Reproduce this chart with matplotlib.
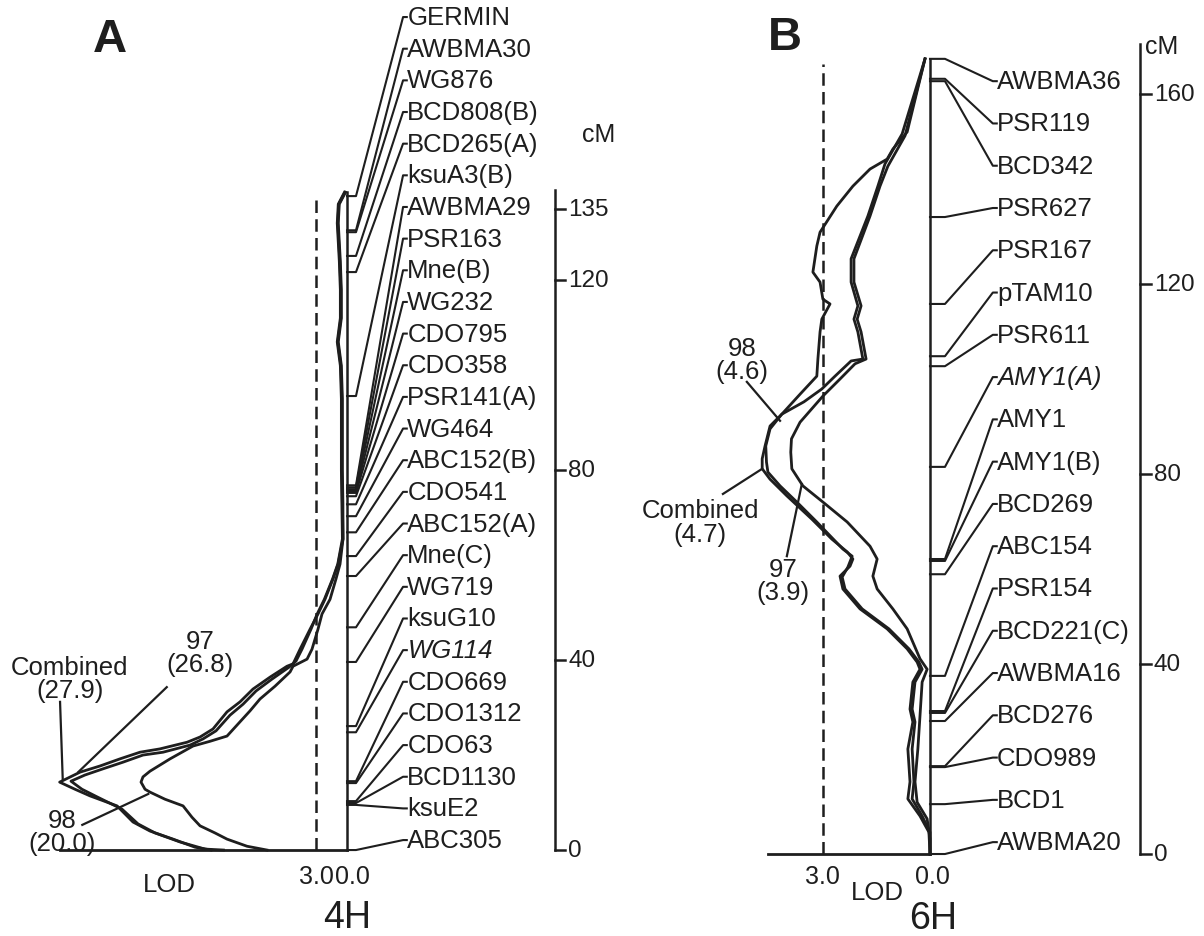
import numpy as np
import matplotlib
matplotlib.use('Agg')
import matplotlib.pyplot as plt

plt.rcParams['font.family'] = ['Liberation Sans', 'DejaVu Sans']
INK = '#1e1e1e'

### chromosome 4H : markers (cM) and LOD profiles
markers_4h = ['GERMIN', 'AWBMA30', 'WG876', 'BCD808(B)', 'BCD265(A)', 'ksuA3(B)',
              'AWBMA29', 'PSR163', 'Mne(B)', 'WG232', 'CDO795', 'CDO358', 'PSR141(A)',
              'WG464', 'ABC152(B)', 'CDO541', 'ABC152(A)', 'Mne(C)', 'WG719', 'ksuG10',
              'WG114', 'CDO669', 'CDO1312', 'CDO63', 'BCD1130', 'ksuE2', 'ABC305']
pos_4h = [137.7, 130.5, 130.1, 125.1, 121.7, 95.6, 76.8, 76.4, 76.0, 75.6, 75.2, 74.5,
          72.8, 70.3, 66.9, 61.9, 57.7, 46.9, 39.6, 26.1, 24.8, 14.5, 14.1, 10.3, 9.9,
          9.5, 0.0]
italic_4h = ['WG114']

comb_4h_cm = [138.5, 136, 132, 128, 124, 118, 112, 107, 102, 95, 88, 80, 73, 65.5, 60.2,
              57.1, 52.8, 49.7, 46.5, 42.3, 39.2, 38.7, 36.4, 33.9, 31.2, 29.1, 25.5, 23.8,
              22.7, 21.3, 20.6, 19.2, 17.7, 16.4, 14.3, 12.8, 11.4, 9.3, 5.9, 4.0, 2.3, 0.6, 0.0]
comb_4h_lod = [0.2, 0.8, 0.9, 0.8, 0.7, 0.6, 0.6, 0.9, 0.6, 0.5, 0.5, 0.5, 0.45, 0.39, 0.87,
               1.36, 2.14, 2.82, 3.59, 4.56, 5.24, 5.83, 7.48, 9.13, 10.39, 11.65, 13.01, 14.27,
               15.53, 18.16, 20.10, 22.04, 23.98, 25.92, 27.9, 26.41, 24.95, 22.33, 20.78, 19.13,
               16.89, 14.76, 13.2]
l97_4h_cm = [138.5, 136, 132, 128, 124, 118, 112, 107, 102, 95, 88, 80, 73, 65.5, 60.2,
             57.1, 52.8, 49.7, 46.5, 42.3, 39.8, 38.5, 36.0, 33.5, 30.7, 28.4, 25.1, 23.4,
             22.1, 20.6, 20.0, 18.5, 17.1, 15.8, 14.5, 12.8, 11.2, 8.6, 5.5, 3.6, 1.7, 0.2, 0.0]
l97_4h_lod = [0.25, 0.85, 0.95, 0.85, 0.75, 0.65, 0.65, 0.95, 0.65, 0.55, 0.55, 0.55, 0.5,
              0.45, 0.9, 1.4, 2.2, 2.9, 3.5, 4.37, 4.95, 5.63, 7.28, 8.83, 10.10, 11.36, 12.72,
              13.98, 15.24, 17.86, 19.81, 21.75, 23.69, 25.44, 26.8, 25.73, 24.27, 21.84, 20.29,
              18.64, 16.21, 13.79, 12.0]
l98_4h_cm = [138.5, 136, 132, 128, 124, 118, 112, 107, 102, 95, 88, 80, 73, 65.5, 60.2,
             57.1, 52.8, 49.7, 46.5, 42.3, 40.2, 38.7, 37.5, 34.5, 31.8, 29.3, 27.0, 24.0,
             22.9, 21.9, 19.2, 16.6, 15.4, 14.3, 12.8, 12.2, 10.7, 9.3, 6.9, 5.1, 3.6, 2.3,
             0.8, 0.0]
l98_4h_lod = [0.15, 0.75, 0.85, 0.75, 0.65, 0.55, 0.55, 0.85, 0.55, 0.45, 0.45, 0.45, 0.4,
              0.39, 0.68, 1.07, 1.65, 2.43, 2.82, 3.40, 3.88, 5.24, 5.53, 6.99, 8.45, 9.42,
              10.39, 11.65, 13.30, 14.95, 17.18, 19.13, 19.81, 20.0, 19.61, 19.13, 17.67,
              15.92, 15.05, 14.27, 12.82, 11.65, 9.71, 7.77]

### chromosome 6H
markers_6h = ['AWBMA36', 'PSR119', 'BCD342', 'PSR627', 'PSR167', 'pTAM10', 'PSR611',
              'AMY1(A)', 'AMY1', 'AMY1(B)', 'BCD269', 'ABC154', 'PSR154', 'BCD221(C)',
              'AWBMA16', 'BCD276', 'CDO989', 'BCD1', 'AWBMA20']
pos_6h = [167.4, 163.2, 162.7, 134.1, 115.8, 104.8, 102.7, 81.5, 62.1, 61.7, 58.9, 37.5,
          30.1, 29.7, 28.0, 18.5, 18.3, 10.5, 0.0]
italic_6h = ['AMY1(A)']

comb_6h_cm = [167.4, 151.6, 145.3, 140.6, 134.3, 125.3, 120.4, 115.4, 112.6, 109.9, 104.2,
              103.8, 100.6, 97.9, 95.2, 92.6, 90.1, 85.9, 83.2, 81.1, 78.9, 75.4, 70.5, 66.3,
              63.6, 62.1, 60.6, 58.5, 55.8, 51.6, 47.4, 43.2, 40.4, 38.9, 36.2, 30.5, 27.8,
              22.1, 15.2, 11.6, 8.0, 4.6, 0.0]
comb_6h_lod = [0.14, 0.78, 1.26, 1.46, 1.74, 2.21, 2.21, 2.02, 2.13, 2.02, 1.88, 2.21, 2.66,
               3.03, 3.53, 4.15, 4.48, 4.62, 4.7, 4.7, 4.48, 4.01, 3.31, 2.75, 2.32, 2.16, 2.24,
               2.52, 2.44, 1.96, 1.20, 0.64, 0.36, 0.28, 0.48, 0.56, 0.48, 0.62, 0.56, 0.62,
               0.28, 0.03, 0.0]
l98_6h_cm = [167.4, 152.0, 148.4, 146.3, 144.2, 140.6, 136.4, 130.9, 128.0, 122.5, 120.4,
             116.8, 115.8, 112.6, 109.9, 104.2, 100.6, 96.8, 92.6, 89.5, 85.9, 82.5, 80.4, 77.5,
             74.1, 69.9, 64.2, 62.7, 60.4, 58.3, 55.8, 51.6, 47.4, 43.2, 40.4, 38.9, 36.2, 30.5,
             27.8, 22.1, 15.2, 11.6, 8.0, 4.6, 0.0]
l98_6h_lod = [0.14, 0.64, 1.04, 1.20, 1.68, 2.16, 2.61, 3.08, 3.17, 3.28, 3.08, 3.00, 2.80,
              3.03, 3.08, 3.14, 3.17, 3.64, 4.15, 4.48, 4.6, 4.58, 4.54, 4.20, 3.73, 3.17, 2.44,
              2.18, 2.30, 2.46, 2.38, 1.90, 1.15, 0.59, 0.31, 0.22, 0.42, 0.50, 0.42, 0.50, 0.45,
              0.50, 0.22, 0.0, 0.0]
l97_6h_cm = [167.4, 151.2, 144.8, 140.6, 134.3, 125.3, 120.4, 115.4, 112.6, 109.9, 104.2,
             103.2, 100.0, 96.4, 90.9, 87.4, 84.6, 81.1, 77.5, 74.1, 69.9, 64.8, 62.1, 58.5,
             55.8, 51.6, 47.4, 41.1, 38.9, 36.2, 29.1, 22.1, 15.2, 10.9, 7.4, 3.2, 0.0]
l97_6h_lod = [0.14, 0.70, 1.18, 1.40, 1.68, 2.13, 2.13, 1.93, 2.04, 1.93, 1.79, 2.10, 2.52,
              3.00, 3.64, 3.88, 3.9, 3.87, 3.56, 3.00, 2.32, 1.68, 1.48, 1.60, 1.48, 1.04, 0.64,
              0.28, 0.08, 0.22, 0.28, 0.34, 0.42, 0.36, 0.08, 0.0, 0.0]

threshold = 3.0

# annotations: text, text pos, leader start, leader end (LOD, cM)
notes_4h = [('Combined\n(27.9)', (26.9, 36.2), (27.86, 31.2), (27.6, 14.9)),
            ('97\n(26.8)', (14.3, 41.5), (17.5, 34.3), (26.1, 16.4)),
            ('98\n(20.0)', (27.7, 4.0), (25.7, 5.3), (19.3, 11.8))]
notes_6h = [('98\n(4.6)', (5.27, 104.2), (5.13, 99.4), (4.20, 91.2)),
            ('Combined\n(4.7)', (6.44, 69.9), (5.80, 75.8), (4.70, 81.1)),
            ('97\n(3.9)', (4.12, 57.5), (4.01, 62.7), (3.59, 77.9))]

ticks_4h = [0, 40, 80, 120, 135]
ticks_6h = [0, 40, 80, 120, 160]

# layout of each panel in its own data units (LOD across, cM up)
lay_4h = dict(rect=[0, 0, 620/1204, 1], xlim=(33.69, -26.50), ylim=(-18.1, 179.2),
              chrom_top=138.5, base_left=27.9, stub=-0.87, diag=-5.44, hook=-5.8, text=-5.85,
              lab_top=175.4, lab_bot=2.1, ruler_x=-20.2, ruler_top=139.0, tick=1.0,
              cm_pos=(-24.4, 150.7), l30=(3.0, -5.4), l00=(-0.5, -5.4), lod=(17.2, -7.2),
              chrom=('4H', (0.0, -14.0)), panel=('A', (23.0, 170.7)))
lay_6h = dict(rect=[620/1204, 0, 584/1204, 1], xlim=(8.683, -7.675), ylim=(-17.26, 180.0),
              chrom_top=167.4, base_left=4.55, stub=-0.42, diag=-1.76, hook=-1.87, text=-1.88,
              lab_top=162.7, lab_bot=2.5, ruler_x=-5.88, ruler_top=170.5, tick=0.3,
              cm_pos=(-6.5, 170.1), l30=(3.0, -4.6), l00=(-0.08, -4.6), lod=(1.48, -8.0),
              chrom=('6H', (-0.08, -13.5)), panel=('B', (4.06, 172.0)))


def draw_panel(ax, names, pos, italic, curves, notes, ticks, lay):
    ax.set_xlim(*lay['xlim'])
    ax.set_ylim(*lay['ylim'])
    ax.axis('off')

    for lod, cm in curves:
        ax.plot(lod, cm, color=INK, lw=2.0, solid_joinstyle='round')

    # chromosome, threshold and LOD baseline
    ax.plot([0, 0], [0, lay['chrom_top']], color=INK, lw=1.8)
    ax.plot([threshold, threshold], [0, lay['chrom_top'] - 1], color=INK, lw=1.8,
            linestyle=(0, (5, 2.5)))
    ax.plot([lay['base_left'], 0], [0, 0], color=INK, lw=2.0)

    # marker connectors and names
    label_cm = np.linspace(lay['lab_top'], lay['lab_bot'], len(names))
    for name, p, lc in zip(names, pos, label_cm):
        ax.plot([0, lay['stub'], lay['diag'], lay['hook']], [p, p, lc, lc],
                color=INK, lw=1.5)
        ax.text(lay['text'], lc, name, ha='left', va='center', fontsize=18.5, color=INK,
                style='italic' if name in italic else 'normal')

    # cM ruler
    rx = lay['ruler_x']
    ax.plot([rx, rx], [0, lay['ruler_top']], color=INK, lw=1.8)
    for t in ticks:
        ax.plot([rx, rx - lay['tick']], [t, t], color=INK, lw=1.8)
        ax.text(rx - lay['tick'] * 1.3, t, str(t), ha='left', va='center', fontsize=17.5,
                color=INK)
    ax.text(*lay['cm_pos'], 'cM', ha='center', va='center', fontsize=18, color=INK)

    # peak annotations
    for txt, tpos, a, b in notes:
        ax.text(*tpos, txt, ha='center', va='center', fontsize=18.5, color=INK,
                linespacing=0.95)
        ax.plot([a[0], b[0]], [a[1], b[1]], color=INK, lw=1.6)

    ax.text(*lay['l30'], '3.0', ha='center', va='center', fontsize=18, color=INK)
    ax.text(*lay['l00'], '0.0', ha='center', va='center', fontsize=18, color=INK)
    ax.text(*lay['lod'], 'LOD', ha='center', va='center', fontsize=18.5, color=INK)
    ax.text(*lay['chrom'][1], lay['chrom'][0], ha='center', va='center', fontsize=27,
            color=INK)
    ax.text(*lay['panel'][1], lay['panel'][0], ha='center', va='center', fontsize=34,
            fontweight='bold', color=INK)


fig = plt.figure(figsize=(12.04, 9.37), dpi=100)
fig.patch.set_facecolor('white')

ax_a = fig.add_axes(lay_4h['rect'])
draw_panel(ax_a, markers_4h, pos_4h, italic_4h,
           [(comb_4h_lod, comb_4h_cm), (l97_4h_lod, l97_4h_cm), (l98_4h_lod, l98_4h_cm)],
           notes_4h, ticks_4h, lay_4h)

ax_b = fig.add_axes(lay_6h['rect'])
draw_panel(ax_b, markers_6h, pos_6h, italic_6h,
           [(comb_6h_lod, comb_6h_cm), (l97_6h_lod, l97_6h_cm), (l98_6h_lod, l98_6h_cm)],
           notes_6h, ticks_6h, lay_6h)

fig.savefig('out.png', dpi=100, facecolor='white')
